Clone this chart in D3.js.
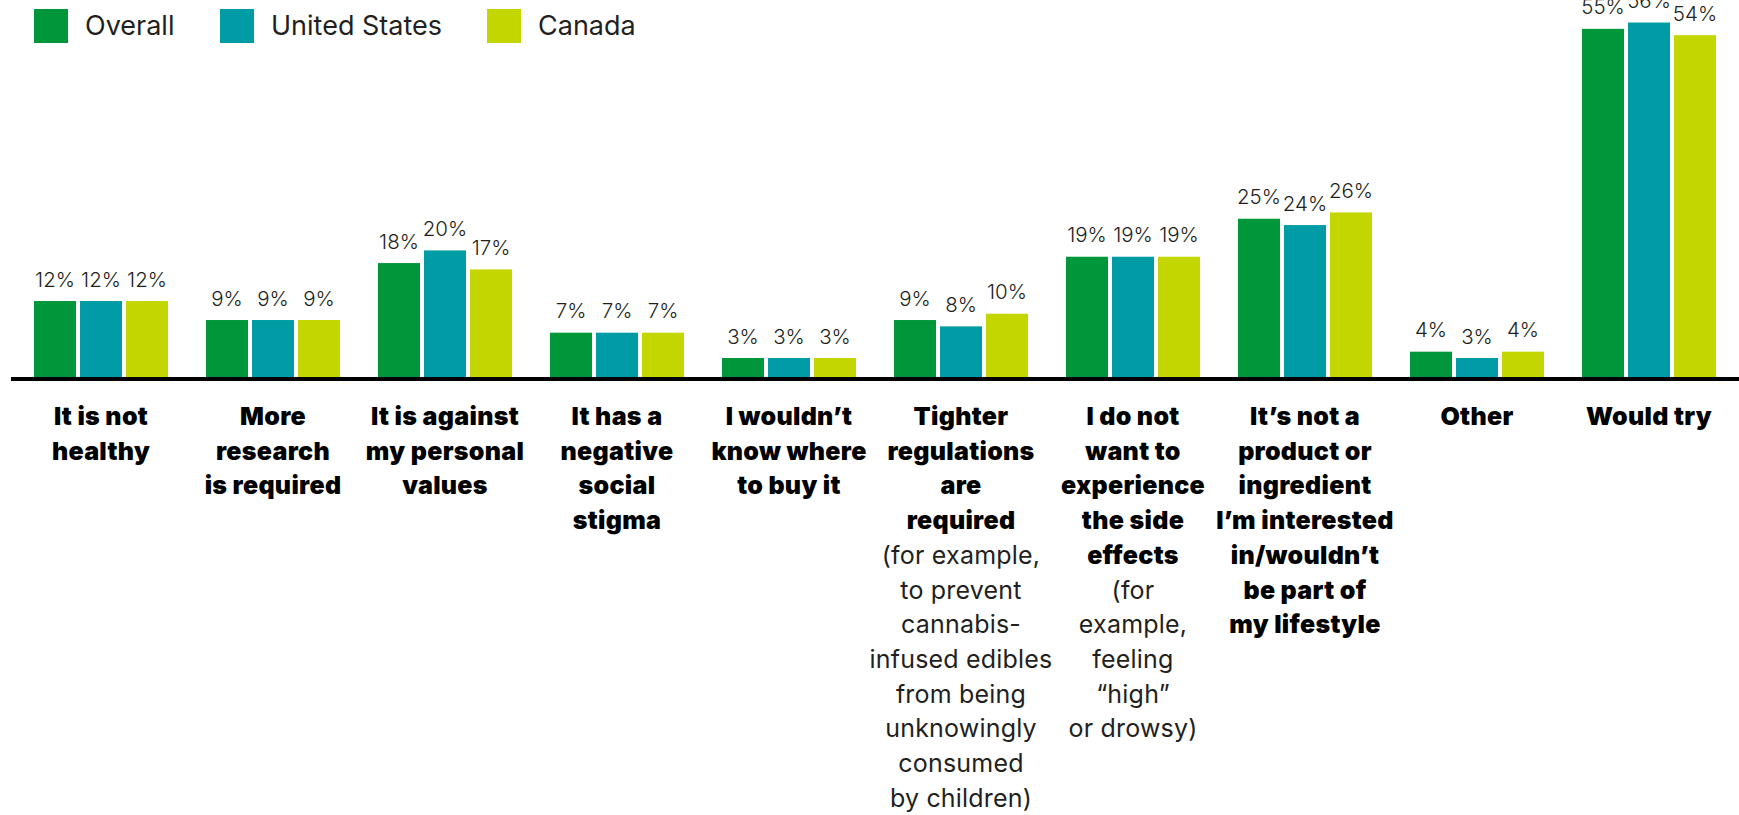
<!DOCTYPE html>
<html>
<head>
<meta charset="utf-8">
<script src="https://cdn.jsdelivr.net/npm/d3@7"></script>
<style>
  html, body { margin: 0; padding: 0; background: #ffffff; }
  svg { display: block; }
  text { font-family: Inter, "Noto Sans", sans-serif; }
</style>
</head>
<body>
<svg id="chart" width="1739" height="815"></svg>
<script>
// Reasons for not trying cannabis edibles, by region (%)
const categories = [
  "It is not healthy",
  "More research is required",
  "It is against my personal values",
  "It has a negative social stigma",
  "I wouldn’t know where to buy it",
  "Tighter regulations are required",
  "I do not want to experience the side effects",
  "It’s not a product or ingredient I’m interested in",
  "Other",
  "Would try"
];
const series = ["Overall", "United States", "Canada"];
const overall      = [12, 9, 18, 7, 3, 9, 19, 25, 4, 55];
const unitedStates = [12, 9, 20, 7, 3, 8, 19, 24, 3, 56];
const canada       = [12, 9, 17, 7, 3, 10, 19, 26, 4, 54];

// Wrapped axis labels: bold heading lines, then regular-weight note lines
const labelBold = [
  ["It is not", "healthy"],
  ["More", "research", "is required"],
  ["It is against", "my personal", "values"],
  ["It has a", "negative", "social", "stigma"],
  ["I wouldn’t", "know where", "to buy it"],
  ["Tighter", "regulations", "are", "required"],
  ["I do not", "want to", "experience", "the side", "effects"],
  ["It’s not a", "product or", "ingredient", "I’m interested", "in/wouldn’t", "be part of", "my lifestyle"],
  ["Other"],
  ["Would try"]
];
const labelNote = [
  [], [], [], [], [],
  ["(for example,", "to prevent", "cannabis-", "infused edibles", "from being", "unknowingly", "consumed", "by children)"],
  ["(for", "example,", "feeling", "“high”", "or drowsy)"],
  [], [], []
];

const colors = ["#00963a", "#009ca6", "#c4d600"];

const svg = d3.select("#chart");
const baseY = 377;

const x = d3.scaleBand()
  .domain(categories)
  .range([34, 1716])
  .paddingInner(38 / 172)
  .paddingOuter(0);

const xs = d3.scaleBand()
  .domain(series)
  .range([0, x.bandwidth()])
  .paddingInner(4 / 46)
  .paddingOuter(0);

const y = d3.scaleLinear()
  .domain([0, 60])
  .range([baseY, baseY - 60 * 6.33]);

const color = d3.scaleOrdinal().domain(series).range(colors);

const rows = categories.map((c, i) => ({
  cat: c,
  vals: [
    { s: series[0], v: overall[i] },
    { s: series[1], v: unitedStates[i] },
    { s: series[2], v: canada[i] }
  ]
}));

const groups = svg.append("g").selectAll("g")
  .data(rows)
  .join("g")
  .attr("transform", d => `translate(${x(d.cat)},0)`);

groups.selectAll("rect")
  .data(d => d.vals)
  .join("rect")
  .attr("x", d => xs(d.s))
  .attr("width", xs.bandwidth())
  .attr("y", d => y(d.v))
  .attr("height", d => y(0) - y(d.v))
  .attr("fill", d => color(d.s));

groups.selectAll("text.val")
  .data(d => d.vals)
  .join("text")
  .attr("class", "val")
  .attr("x", d => xs(d.s) + xs.bandwidth() / 2)
  .attr("y", d => y(d.v) - 14.5)
  .attr("text-anchor", "middle")
  .attr("font-size", 20.5)
  .attr("font-weight", 300)
  .attr("fill", "#231f20")
  .text(d => d.v + "%");

// Baseline
svg.append("line")
  .attr("x1", 11).attr("x2", 1739)
  .attr("y1", baseY + 2).attr("y2", baseY + 2)
  .attr("stroke", "#000").attr("stroke-width", 4);

// Category labels
const lineH = 34.7;
const labels = svg.append("g").selectAll("text")
  .data(categories)
  .join("text")
  .attr("text-anchor", "middle")
  .attr("fill", "#000");

labels.each(function(c, i) {
  const t = d3.select(this);
  const cx = x(c) + x.bandwidth() / 2;
  const lines = labelBold[i].map(s => ({ s, b: true }))
    .concat(labelNote[i].map(s => ({ s, b: false })));
  lines.forEach((l, k) => {
    t.append("tspan")
      .attr("x", cx)
      .attr("y", 425 + k * lineH)
      .attr("font-size", l.b ? 25 : 25)
      .attr("font-weight", l.b ? 900 : 400)
      .attr("letter-spacing", l.b ? 0.3 : 0.2)
      .attr("fill", l.b ? "#000" : "#231f20")
      .text(l.s);
  });
});

// Legend
const legendX = [34, 220, 487];
const legend = svg.append("g").selectAll("g")
  .data(series)
  .join("g")
  .attr("transform", (d, i) => `translate(${legendX[i]},9)`);
legend.append("rect")
  .attr("width", 34).attr("height", 34)
  .attr("fill", d => color(d));
legend.append("text")
  .attr("x", 51).attr("y", 26)
  .attr("font-size", 27)
  .attr("font-weight", 400)
  .attr("fill", "#231f20")
  .text(d => d);
</script>
</body>
</html>
